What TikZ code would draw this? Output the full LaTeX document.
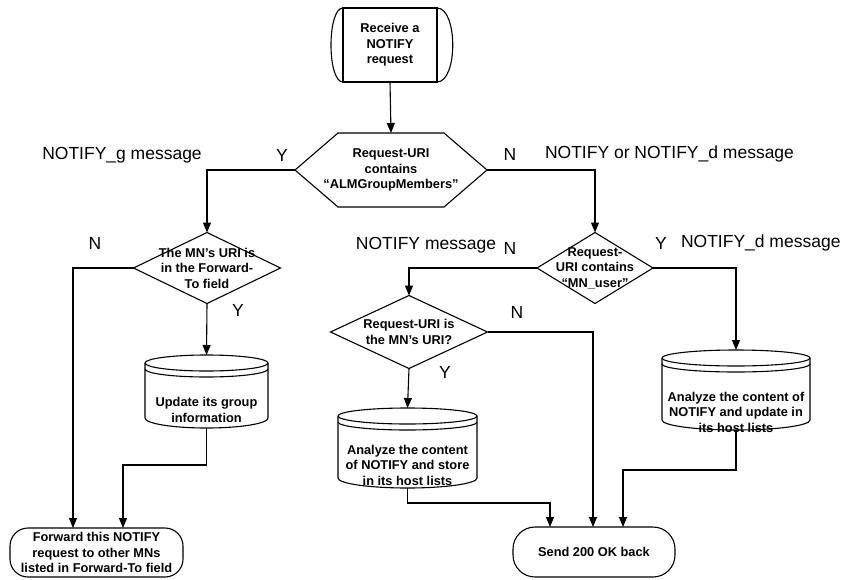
\documentclass[tikz,border=0pt]{standalone}
\usepackage{fontspec}
\setmainfont{Liberation Sans}
\usetikzlibrary{arrows.meta}

% cylinder outline: centre x, top y, width, height (pixel units)
\newcommand\cylshape[4]{%
  \pgfmathsetmacro\cylL{#1-#3/2}%
  \pgfmathsetmacro\cylR{#1+#3/2}%
  \pgfmathsetmacro\cylE{#2+8}%
  \pgfmathsetmacro\cylD{#2+14}%
  \pgfmathsetmacro\cylB{#2+#4-10}%
  \pgfmathsetmacro\cylRx{#3/2}%
  \draw (\cylL,\cylE) arc[start angle=180,end angle=-180,x radius=\cylRx pt,y radius=8pt];
  \draw (\cylL,\cylE) -- (\cylL,\cylB)
        arc[start angle=180,end angle=360,x radius=\cylRx pt,y radius=10pt] -- (\cylR,\cylE);
  \draw (\cylL,\cylD) arc[start angle=180,end angle=360,x radius=\cylRx pt,y radius=8pt];
}

\begin{document}
\begin{tikzpicture}[x=1pt,y=-1pt,line width=1.1pt,
  every node/.style={inner sep=0pt,outer sep=0pt},
  boxtext/.style={font=\fontsize{12.8}{15.5}\selectfont\bfseries,align=center},
  frame/.style 2 args={boxtext,rectangle,minimum width=#1,minimum height=#2},
  lbl/.style={font=\fontsize{17.5}{20}\selectfont},
  arr/.style={-{Triangle[length=10pt,width=8pt]}}]

\useasboundingbox[fill=white] (0,0) rectangle (841,579);

% start terminal
\node[frame={94pt}{74pt},draw] (start) at (390,45) {Receive a\\NOTIFY\\request};
\draw (start.north west) .. controls ([xshift=-16pt]start.north west) and ([xshift=-16pt]start.south west) .. (start.south west);
\draw (start.north east) .. controls ([xshift=21pt]start.north east) and ([xshift=21pt]start.south east) .. (start.south east);

% first decision (hexagon)
\node[frame={192pt}{74pt}] (hex) at (391,170) {Request-URI\\contains\\``ALMGroupMembers''};
\draw (hex.west) -- ([xshift=43pt]hex.north west) -- ([xshift=-43pt]hex.north east)
      -- (hex.east) -- ([xshift=-43pt]hex.south east) -- ([xshift=43pt]hex.south west) -- cycle;

% decisions (diamonds)
\node[frame={147pt}{71pt}] (d1) at (207,268) {The MN's URI is\\in the Forward-\\To field};
\draw (d1.north) -- (d1.east) -- (d1.south) -- (d1.west) -- cycle;
\node[frame={116pt}{71pt}] (d2) at (595,268) {Request-\\URI contains\\``MN\_user''};
\draw (d2.north) -- (d2.east) -- (d2.south) -- (d2.west) -- cycle;
\node[frame={157pt}{73pt}] (d3) at (409,332) {Request-URI is\\the MN's URI?};
\draw (d3.north) -- (d3.east) -- (d3.south) -- (d3.west) -- cycle;

% stores (cylinders)
\cylshape{206.5}{355}{123}{73}
\node[frame={123pt}{73pt}] (upd) at (206.5,391.5) {};
\node[boxtext] (updt) at (206.5,410) {Update its group\\information};

\cylshape{407.5}{408}{139}{80}
\node[frame={139pt}{80pt}] (sto) at (407.5,448) {};
\node[boxtext] (stot) at (407.5,465) {Analyze the content\\of NOTIFY and store\\in its host lists};

\cylshape{736}{350}{148}{80}
\node[frame={148pt}{80pt}] (anr) at (736,390) {};
\node[boxtext] (anrt) at (736,412) {Analyze the content of\\NOTIFY and update in\\its host lists};

% terminals
\node[frame={173pt}{49pt},draw,rounded corners=18pt] (fwd) at (96.5,552.5)
  {Forward this NOTIFY\\request to other MNs\\listed in Forward-To field};
\node[frame={162pt}{50pt},draw,rounded corners=22pt] (send) at (594,552) {Send 200 OK back};

% connectors
\draw[arr] (start.south) -- (hex.north);
\draw[arr] (hex.west) -| (d1.north);
\draw[arr] (hex.east) -| (d2.north);
\draw[arr] (d1.west) -| ([xshift=-23.5pt]fwd.north);
\draw[arr] (d1.south) -- (upd.north);
\draw[arr] (upd.south) -- ++(0,37) -| ([xshift=26.5pt]fwd.north);
\draw[arr] (d2.west) -| (d3.north);
\draw[arr] (d2.east) -| (anr.north);
\draw[arr] (d3.south) -- (sto.north);
\draw[arr] (d3.east) -| ([xshift=-1pt]send.north);
\draw[arr] (sto.south) -- ++(0,15) -| ([xshift=-44pt]send.north);
\draw[arr] (anr.south) -- ++(0,40) -| ([xshift=29pt]send.north);

% branch labels
\node[lbl] (lg) at (122,155) {NOTIFY\_g message};
\node[lbl] (ly1) at (282,155) {Y};
\node[lbl] (ln1) at (510,154) {N};
\node[lbl,anchor=west] (lnd) at (545,154) {NOTIFY or NOTIFY\_d message};
\node[lbl] (ln2) at (95,243) {N};
\node[lbl] (ly2) at (238,310) {Y};
\node[lbl] (lm) at (426,245) {NOTIFY message};
\node[lbl] (ln3) at (510,248) {N};
\node[lbl] (ly3) at (661,243) {Y};
\node[lbl,anchor=west] (ld) at (681,243) {NOTIFY\_d message};
\node[lbl] (ln4) at (517,312) {N};
\node[lbl] (ly4) at (445,372) {Y};
\end{tikzpicture}
\end{document}
